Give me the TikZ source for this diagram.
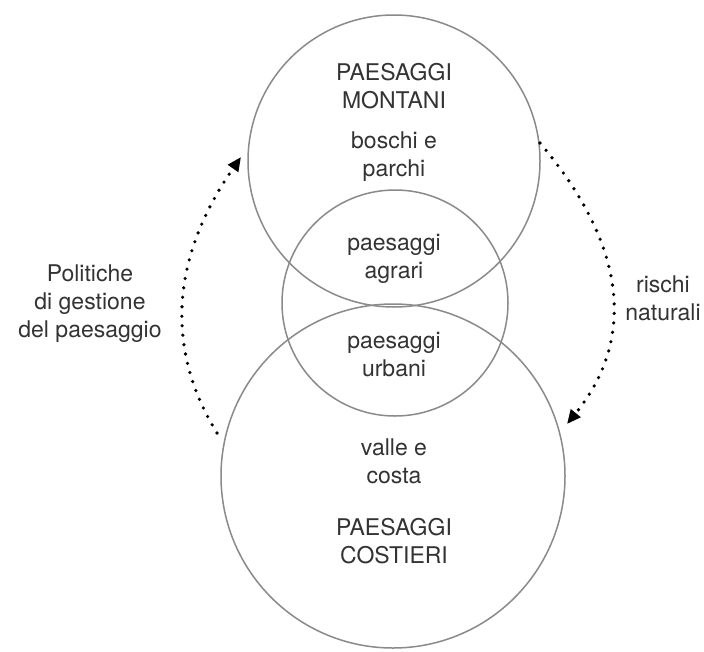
\documentclass[tikz,border=0pt]{standalone}
\usepackage{fontspec}
\setmainfont{TeX Gyre Heros}
\usetikzlibrary{arrows.meta}
\definecolor{ringgray}{HTML}{8A8A8A}
\definecolor{inkgray}{HTML}{333333}
\tikzset{
  ring/.style={circle, draw=ringgray, line width=1.5pt, inner sep=0pt},
  lbl/.style={align=center, text=inkgray, inner sep=0pt,
    font=\fontsize{23}{28}\selectfont},
  dotflow/.style={line width=3.6pt, line cap=round, dash pattern=on 0pt off 9.5pt,
    -{Triangle[length=14pt,width=12pt]}}
}
\newcommand{\rowline}[1]{\strut #1}
\begin{document}
\begin{tikzpicture}[x=1pt,y=-1pt]
  \useasboundingbox[fill=white] (0,0) rectangle (704,651);

  % the three overlapping landscape rings
  \node[ring, minimum size=292pt] (monti) at (394,161) {};
  \node[ring, minimum size=226pt] (mezzo) at (395,303) {};
  \node[ring, minimum size=344pt] (coste) at (393,476) {};

  % labels inside the rings
  \node[lbl] (tmonti)  at (394,89) {\rowline{PAESAGGI}\\\rowline{MONTANI}};
  \node[lbl] (tboschi) at (394,157)  {\rowline{boschi e}\\\rowline{parchi}};
  \node[lbl] (tagrari) at (394,259){\rowline{paesaggi}\\\rowline{agrari}};
  \node[lbl] (turbani) at (394,357)  {\rowline{paesaggi}\\\rowline{urbani}};
  \node[lbl] (tvalle)  at (394,464)  {\rowline{valle e}\\\rowline{costa}};
  \node[lbl] (tcoste)  at (394,544)  {\rowline{PAESAGGI}\\\rowline{COSTIERI}};

  % side labels
  \node[lbl] (tpol)  at (90,304) {\rowline{Politiche}\\\rowline{di gestione}\\\rowline{del paesaggio}};
  \node[lbl] (trisc) at (663,301) {\rowline{rischi}\\\rowline{naturali}};

  % end points of the curved flows
  \coordinate (polA) at (217,433);
  \coordinate (polB) at (241,157);
  \coordinate (risA) at (540,143);
  \coordinate (risB) at (567,424);

  \draw[dotflow] (polA) .. controls (164,347) and (172,256) .. (polB);
  \draw[dotflow] (risA) .. controls (627,246) and (636,339) .. (risB);
\end{tikzpicture}
\end{document}
